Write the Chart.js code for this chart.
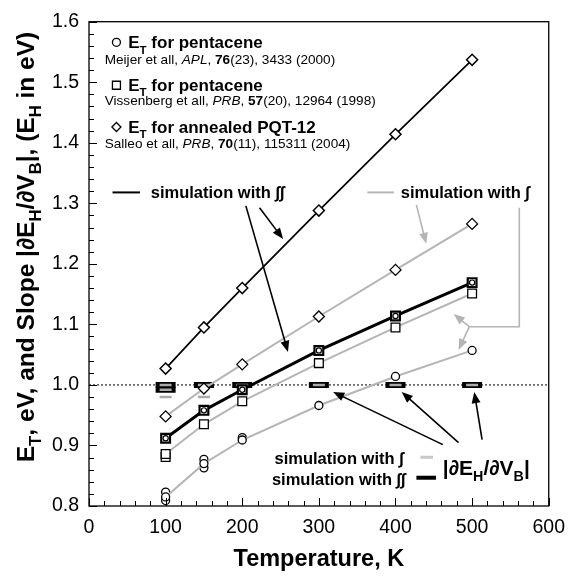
<!DOCTYPE html>
<html>
<head>
<meta charset="utf-8">
<script src="https://cdn.jsdelivr.net/npm/chart.js@4.4.1/dist/chart.umd.min.js"></script>
<style>
    html, body { margin: 0; padding: 0; background: #fff; }
</style>
</head>
<body>
<canvas id="graficoEnergia" width="575" height="579"></canvas>
<script>
// Temperatures (K) where every series is sampled
const temps = [100, 150, 200, 300, 400, 500];

// E_T from simulation with double integral (black lines)
const diamondDouble = [1.027, 1.095, 1.160, 1.288, 1.414, 1.537];
const squareDouble = [0.912, 0.958, 0.992, 1.057, 1.114, 1.169];

// E_T from simulation with single integral (gray lines)
const diamondSingle = [0.948, 0.994, 1.034, 1.113, 1.190, 1.266];
const squareSingle = [0.886, 0.935, 0.973, 1.036, 1.095, 1.151];
const circleSingle = [0.815, 0.870, 0.909, 0.966, 1.014, 1.057];

// extra overlapping markers at low temperature
const extraCircleT = [100, 100, 150, 150, 200];
const extraCircleE = [0.823, 0.809, 0.877, 0.863, 0.913];
const extraSquareT = [100];
const extraSquareE = [0.881];

// slope |dEH/dVB|
const slopeDoubleT = [100, 100, 150, 200, 300, 400, 500];
const slopeDoubleV = [1.0, 0.992, 1.0, 1.0, 1.0, 1.0, 1.0];
const slopeSingleT = [100, 100, 100, 150, 150, 200, 300, 400, 500];
const slopeSingleV = [1.0, 0.992, 0.980, 1.0, 0.980, 1.0, 1.0, 1.0, 1.0];

// dotted reference line at slope = 1
const unityT = [0, 600];
const unityV = [1.0, 1.0];

// axis ticks
const xTickValues = [0, 100, 200, 300, 400, 500, 600];
const yTickValues = [0.8, 0.9, 1.0, 1.1, 1.2, 1.3, 1.4, 1.5, 1.6];

const FAM = '"Liberation Sans", Arial, Helvetica, sans-serif';
const GRAY = "#b5b5b5";

function pts(xs, ys) {
    return xs.map((x, i) => ({ x: x, y: ys[i] }));
}

// text with bold / italic / subscript parts, y = baseline
function drawRich(ctx, segs, x, y, size, align) {
    const fonts = segs.map(s =>
        (s.i ? "italic " : "") + (s.b ? "bold " : "") + (s.sub ? size * 0.68 : size) + "px " + FAM);
    let total = 0;
    const widths = segs.map((s, k) => {
        ctx.font = fonts[k];
        const w = ctx.measureText(s.t).width;
        total += w;
        return w;
    });
    let cx = align === "center" ? x - total / 2 : align === "right" ? x - total : x;
    ctx.textAlign = "left";
    ctx.textBaseline = "alphabetic";
    segs.forEach((s, k) => {
        ctx.font = fonts[k];
        ctx.fillText(s.t, cx, y + (s.sub ? size * 0.3 : 0));
        cx += widths[k];
    });
}
const B = t => ({ t: t, b: true });
const Bs = t => ({ t: t, b: true, sub: true });
const R = t => ({ t: t });
const I = t => ({ t: t, i: true });

function arrow(ctx, x1, y1, x2, y2, color, head) {
    const a = Math.atan2(y2 - y1, x2 - x1);
    ctx.strokeStyle = color;
    ctx.fillStyle = color;
    ctx.lineWidth = 1.6;
    ctx.beginPath();
    ctx.moveTo(x1, y1);
    ctx.lineTo(x2 - Math.cos(a) * head * 0.8, y2 - Math.sin(a) * head * 0.8);
    ctx.stroke();
    ctx.beginPath();
    ctx.moveTo(x2, y2);
    ctx.lineTo(x2 - head * Math.cos(a - 0.38), y2 - head * Math.sin(a - 0.38));
    ctx.lineTo(x2 - head * Math.cos(a + 0.38), y2 - head * Math.sin(a + 0.38));
    ctx.closePath();
    ctx.fill();
}

function marker(ctx, style, x, y, r) {
    ctx.fillStyle = "#fff";
    ctx.strokeStyle = "#000";
    ctx.lineWidth = 1.3;
    ctx.beginPath();
    if (style === "circle") ctx.arc(x, y, r, 0, Math.PI * 2);
    if (style === "rect") ctx.rect(x - r, y - r, 2 * r, 2 * r);
    if (style === "diamond") {
        ctx.moveTo(x - r, y); ctx.lineTo(x, y - r); ctx.lineTo(x + r, y); ctx.lineTo(x, y + r); ctx.closePath();
    }
    ctx.fill();
    ctx.stroke();
}

const framePlugin = {
    id: "framePlugin",
    afterDraw(chart) {
        const ctx = chart.ctx;
        const xs = chart.scales.x;
        const ys = chart.scales.y;
        const { left, right, top, bottom } = chart.chartArea;
        const at = (t, e) => [xs.getPixelForValue(t), ys.getPixelForValue(e)];

        ctx.save();
        // frame
        ctx.strokeStyle = "#000";
        ctx.lineWidth = 1.3;
        ctx.strokeRect(left, top, right - left, bottom - top);

        // inward ticks
        ctx.lineWidth = 1;
        ctx.beginPath();
        for (let t = 0; t <= 600; t += 20) {
            const px = Math.round(xs.getPixelForValue(t)) + 0.5;
            const len = t % 100 === 0 ? 8 : 5;
            ctx.moveTo(px, bottom);
            ctx.lineTo(px, bottom - len);
        }
        for (let k = 0; k <= 40; k++) {
            const py = Math.round(ys.getPixelForValue(0.8 + k * 0.02)) + 0.5;
            const len = k % 5 === 0 ? 8 : 5;
            ctx.moveTo(left, py);
            ctx.lineTo(left + len, py);
        }
        ctx.stroke();

        ctx.fillStyle = "#000";

        // axis titles
        const ax = 23.5;
        drawRich(ctx, [B("Temperature, K")], (left + right) / 2, 566, ax, "center");
        const ay = 24.5;
        ctx.save();
        ctx.translate(25, 247);
        ctx.rotate(-Math.PI / 2);
        ctx.fillStyle = "#000";
        drawRich(ctx, [B("E"), Bs("T"), B(", eV, and Slope |\u2202E"), Bs("H"), B("/\u2202V"), Bs("B"),
            B("|, (E"), Bs("H"), B(" in eV)")], 0, ay * 0.36, ay, "center");
        ctx.restore();

        // legend of the measured points
        const L = 17, S = 13.6;
        let p = at(35.8, 1.566);
        marker(ctx, "circle", p[0], p[1], 4);
        ctx.fillStyle = "#000";
        p = at(51.2, 1.566);
        drawRich(ctx, [B("E"), Bs("T"), B(" for pentacene")], p[0], p[1] + L * 0.36, L, "left");
        p = at(20.5, 1.539);
        drawRich(ctx, [R("Meijer et all, "), I("APL"), R(", "), B("76"), R("(23), 3433 (2000)")], p[0], p[1] + S * 0.36, S, "left");

        p = at(35.8, 1.495);
        marker(ctx, "rect", p[0], p[1], 4);
        ctx.fillStyle = "#000";
        p = at(51.2, 1.495);
        drawRich(ctx, [B("E"), Bs("T"), B(" for pentacene")], p[0], p[1] + L * 0.36, L, "left");
        p = at(20.5, 1.470);
        drawRich(ctx, [R("Vissenberg et all, "), I("PRB"), R(", "), B("57"), R("(20), 12964 (1998)")], p[0], p[1] + S * 0.36, S, "left");

        p = at(35.8, 1.426);
        marker(ctx, "diamond", p[0], p[1], 4.5);
        ctx.fillStyle = "#000";
        p = at(51.2, 1.426);
        drawRich(ctx, [B("E"), Bs("T"), B(" for annealed PQT-12")], p[0], p[1] + L * 0.36, L, "left");
        p = at(20.5, 1.399);
        drawRich(ctx, [R("Salleo et all, "), I("PRB"), R(", "), B("70"), R("(11), 115311 (2004)")], p[0], p[1] + S * 0.36, S, "left");

        // simulation labels
        const Q = 16.5;
        let a = at(30.7, 1.318), b = at(66.5, 1.318);
        ctx.strokeStyle = "#000"; ctx.lineWidth = 2;
        ctx.beginPath(); ctx.moveTo(a[0], a[1]); ctx.lineTo(b[0], b[1]); ctx.stroke();
        p = at(80.6, 1.318);
        drawRich(ctx, [B("simulation with \u222B\u222B")], p[0], p[1] + Q * 0.36, Q, "left");

        a = at(363.3, 1.318); b = at(397.9, 1.318);
        ctx.strokeStyle = GRAY; ctx.lineWidth = 2;
        ctx.beginPath(); ctx.moveTo(a[0], a[1]); ctx.lineTo(b[0], b[1]); ctx.stroke();
        ctx.fillStyle = "#000";
        p = at(406.8, 1.318);
        drawRich(ctx, [B("simulation with \u222B")], p[0], p[1] + Q * 0.36, Q, "left");

        // arrows of the simulation labels
        a = at(222.6, 1.2926); b = at(253.3, 1.241);
        arrow(ctx, a[0], a[1], b[0], b[1], "#000", 12);
        a = at(204.7, 1.2958); b = at(259.7, 1.0543);
        arrow(ctx, a[0], a[1], b[0], b[1], "#000", 12);
        a = at(427.3, 1.2974); b = at(440.1, 1.233);
        arrow(ctx, a[0], a[1], b[0], b[1], GRAY, 12);
        a = at(561.6, 1.2926); b = at(561.6, 1.0962);
        const c = at(496.4, 1.0962);
        ctx.strokeStyle = GRAY; ctx.lineWidth = 1.6;
        ctx.beginPath(); ctx.moveTo(a[0], a[1]); ctx.lineTo(b[0], b[1]); ctx.lineTo(c[0], c[1]); ctx.stroke();
        b = at(476.0, 1.1171);
        arrow(ctx, c[0], c[1], b[0], b[1], GRAY, 12);
        b = at(482.3, 1.0576);
        arrow(ctx, c[0], c[1], b[0], b[1], GRAY, 12);

        // slope legend at the bottom
        ctx.fillStyle = "#000";
        p = at(410.7, 0.8789);
        drawRich(ctx, [B("simulation with \u222B")], p[0], p[1] + Q * 0.36, Q, "right");
        p = at(413.2, 0.8451);
        drawRich(ctx, [B("simulation with \u222B\u222B")], p[0], p[1] + Q * 0.36, Q, "right");
        a = at(432.4, 0.8805); b = at(449.0, 0.8805);
        ctx.strokeStyle = "#c8c8c8"; ctx.lineWidth = 3;
        ctx.beginPath(); ctx.moveTo(a[0], a[1]); ctx.lineTo(b[0], b[1]); ctx.stroke();
        a = at(427.3, 0.8467); b = at(452.9, 0.8467);
        ctx.strokeStyle = "#000"; ctx.lineWidth = 4;
        ctx.beginPath(); ctx.moveTo(a[0], a[1]); ctx.lineTo(b[0], b[1]); ctx.stroke();
        const M = 21;
        ctx.fillStyle = "#000";
        p = at(461.8, 0.8644);
        drawRich(ctx, [B("|\u2202E"), Bs("H"), B("/\u2202V"), Bs("B"), B("|")], p[0], p[1] + M * 0.36, M, "left");

        a = at(461.8, 0.9014); b = at(318.6, 0.9884);
        arrow(ctx, a[0], a[1], b[0], b[1], "#000", 12);
        a = at(482.3, 0.9046); b = at(408.1, 0.9884);
        arrow(ctx, a[0], a[1], b[0], b[1], "#000", 12);
        a = at(513.0, 0.9095); b = at(502.8, 0.9884);
        arrow(ctx, a[0], a[1], b[0], b[1], "#000", 12);

        ctx.restore();
    }
};

const grayLine = (data, style, r) => ({
    data: data,
    showLine: true,
    borderColor: GRAY,
    borderWidth: 2,
    pointStyle: style,
    pointRadius: r,
    pointBackgroundColor: "#fff",
    pointBorderColor: "#000",
    pointBorderWidth: 1.3,
    order: 4
});

new Chart(document.getElementById("graficoEnergia"), {
    type: "scatter",
    data: {
        datasets: [
            {
                data: pts(unityT, unityV),
                showLine: true,
                borderColor: "#000",
                borderWidth: 1,
                borderDash: [2, 2],
                pointRadius: 0,
                order: 12
            },
            {
                data: pts(slopeDoubleT, slopeDoubleV),
                pointStyle: "line",
                pointRadius: 10,
                pointBorderColor: "#000",
                pointBorderWidth: 6,
                order: 9
            },
            {
                data: pts(slopeSingleT, slopeSingleV),
                pointStyle: "line",
                pointRadius: 6,
                pointBorderColor: "#aaaaaa",
                pointBorderWidth: 2.5,
                order: 8
            },
            grayLine(pts(temps, circleSingle), "circle", 4),
            grayLine(pts(temps, squareSingle), "rect", 6.2),
            grayLine(pts(temps, diamondSingle), "rectRot", 5.5),
            {
                data: pts(extraCircleT, extraCircleE),
                pointStyle: "circle",
                pointRadius: 4,
                pointBackgroundColor: "#fff",
                pointBorderColor: "#000",
                pointBorderWidth: 1.3,
                order: 5
            },
            {
                data: pts(extraSquareT, extraSquareE),
                pointStyle: "rect",
                pointRadius: 6.2,
                pointBackgroundColor: "#fff",
                pointBorderColor: "#000",
                pointBorderWidth: 1.3,
                order: 5
            },
            {
                data: pts(temps, diamondDouble),
                showLine: true,
                borderColor: "#000",
                borderWidth: 1.7,
                pointStyle: "rectRot",
                pointRadius: 5.5,
                pointBackgroundColor: "#fff",
                pointBorderColor: "#000",
                pointBorderWidth: 1.5,
                order: 2
            },
            {
                data: pts(temps, squareDouble),
                showLine: true,
                borderColor: "#000",
                borderWidth: 3,
                pointStyle: "rect",
                pointRadius: 6.2,
                pointBackgroundColor: "#fff",
                pointBorderColor: "#000",
                pointBorderWidth: 2.2,
                order: 1
            },
            {
                data: pts(temps, squareDouble),
                pointStyle: "circle",
                pointRadius: 2.6,
                pointBackgroundColor: "rgba(0,0,0,0)",
                pointBorderColor: "#000",
                pointBorderWidth: 1.2,
                order: 0
            }
        ]
    },
    options: {
        responsive: false,
        animation: false,
        layout: { padding: { left: 0, right: 17, top: 9, bottom: 0 } },
        plugins: {
            legend: { display: false },
            tooltip: { enabled: false }
        },
        scales: {
            x: {
                type: "linear",
                min: 0,
                max: 600,
                afterBuildTicks: s => { s.ticks = xTickValues.map(v => ({ value: v })); },
                afterFit: s => { s.height = 73; },
                ticks: {
                    color: "#000",
                    font: { family: FAM, size: 19.5 },
                    padding: 10,
                    maxRotation: 0
                },
                grid: { display: false, drawTicks: false },
                border: { display: false }
            },
            y: {
                type: "linear",
                min: 0.8,
                max: 1.6,
                afterBuildTicks: s => { s.ticks = yTickValues.map(v => ({ value: v })); },
                afterFit: s => { s.width = 89; },
                ticks: {
                    color: "#000",
                    font: { family: FAM, size: 19.5 },
                    padding: 10,
                    callback: v => v.toFixed(1)
                },
                grid: { display: false, drawTicks: false },
                border: { display: false }
            }
        }
    },
    plugins: [framePlugin]
});
</script>
</body>
</html>
